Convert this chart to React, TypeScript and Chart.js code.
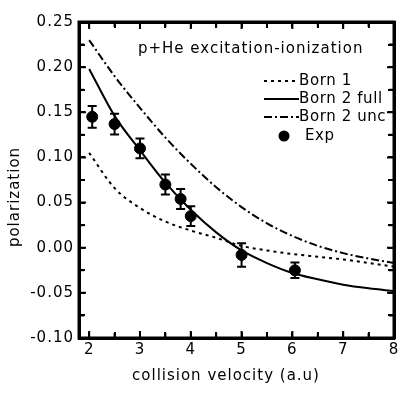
import React, { useEffect, useRef } from "react";
import { Chart, registerables } from "chart.js";

Chart.register(...registerables);

// ---- data ----
const curveX = [2, 2.5, 3, 3.5, 4, 4.5, 5, 5.5, 6, 6.5, 7, 7.5, 8];
const born1 = [0.105, 0.066, 0.044, 0.029, 0.019, 0.011, 0.002, -0.003, -0.007, -0.010, -0.013, -0.017, -0.021];
const born2Full = [0.198, 0.146, 0.108, 0.072, 0.042, 0.017, -0.003, -0.017, -0.028, -0.035, -0.041, -0.045, -0.048];
const born2Unc = [0.230, 0.190, 0.155, 0.122, 0.093, 0.067, 0.045, 0.027, 0.013, 0.002, -0.006, -0.012, -0.017];
const expX = [2.06, 2.5, 3.0, 3.5, 3.8, 4.0, 5.0, 6.05];
const expY = [0.145, 0.137, 0.110, 0.070, 0.054, 0.035, -0.008, -0.025];
const expErr = [0.012, 0.0115, 0.011, 0.011, 0.011, 0.011, 0.013, 0.0085];

const xTicks = [2, 3, 4, 5, 6, 7, 8];
const xMinor = [2.5, 3.5, 4.5, 5.5, 6.5, 7.5];
const yTicks = [-0.1, -0.05, 0, 0.05, 0.1, 0.15, 0.2, 0.25];
const yMinor = [-0.075, -0.025, 0.025, 0.075, 0.125, 0.175, 0.225];

const titleText = "p+He excitation-ionization";
const xTitle = "collision velocity (a.u)";
const yTitle = "polarization";
const legendLabels = ["Born 1", "Born 2 full", "Born 2 unc", "Exp"];

const FONT = "'DejaVu Sans', sans-serif";
const DOTTED = [3, 4];
const DASHDOT = [8, 3, 2, 3];

const isMajor = (v: number, majors: number[]) => majors.some((m) => Math.abs(m - v) < 1e-9);

export default function App() {
  const ref = useRef<HTMLCanvasElement>(null);

  useEffect(() => {
    const canvas = ref.current!;
    const decor = {
      id: "decor",
      beforeDraw(chart: any) {
        (chart.ctx as any).letterSpacing = "1px";
      },
      afterDraw(chart: any) {
        const ctx = chart.ctx as CanvasRenderingContext2D;
        const a = chart.chartArea;
        const xs = chart.scales.x;
        const ys = chart.scales.y;

        // frame
        ctx.save();
        ctx.strokeStyle = "#000000";
        ctx.lineWidth = 3;
        ctx.strokeRect(a.left, a.top, a.right - a.left, a.bottom - a.top);
        ctx.restore();

        // minor/major ticks inward
        ctx.save();
        ctx.strokeStyle = "#000000";
        ctx.lineWidth = 2;
        ctx.beginPath();
        const xt = (v: number, len: number) => {
          const p = xs.getPixelForValue(v);
          ctx.moveTo(p, a.bottom);
          ctx.lineTo(p, a.bottom - len);
          ctx.moveTo(p, a.top);
          ctx.lineTo(p, a.top + len);
        };
        const yt = (v: number, len: number) => {
          const p = ys.getPixelForValue(v);
          ctx.moveTo(a.left, p);
          ctx.lineTo(a.left + len, p);
          ctx.moveTo(a.right, p);
          ctx.lineTo(a.right - len, p);
        };
        xTicks.forEach((v) => xt(v, 7));
        xMinor.forEach((v) => xt(v, 5));
        yTicks.forEach((v) => yt(v, 7));
        yMinor.forEach((v) => yt(v, 5));
        ctx.stroke();
        ctx.restore();

        // error bars
        ctx.save();
        ctx.strokeStyle = "black";
        ctx.lineWidth = 2;
        expX.forEach((xv, i) => {
          const px = xs.getPixelForValue(xv);
          const t = ys.getPixelForValue(expY[i] + expErr[i]);
          const b = ys.getPixelForValue(expY[i] - expErr[i]);
          ctx.beginPath();
          ctx.moveTo(px, t);
          ctx.lineTo(px, b);
          ctx.moveTo(px - 4.5, t);
          ctx.lineTo(px + 4.5, t);
          ctx.moveTo(px - 4.5, b);
          ctx.lineTo(px + 4.5, b);
          ctx.stroke();
        });
        ctx.restore();

        // texts
        ctx.save();
        ctx.fillStyle = "black";
        (ctx as any).letterSpacing = "1px";
        ctx.font = `15px ${FONT}`;
        ctx.textBaseline = "middle";
        ctx.textAlign = "left";
        ctx.fillText(titleText, 138, 49);
        ctx.textAlign = "center";
        ctx.fillText(xTitle, 226, 376);
        ctx.translate(15, 197);
        ctx.rotate(-Math.PI / 2);
        ctx.fillText(yTitle, 0, 0);
        ctx.restore();

        // legend
        ctx.save();
        ctx.strokeStyle = "black";
        ctx.fillStyle = "black";
        const lx0 = 264;
        const lx1 = 299;
        const rows = [81, 99, 117, 136];
        const dashes = [DOTTED, [], DASHDOT];
        ctx.lineWidth = 2;
        for (let i = 0; i < 3; i++) {
          ctx.setLineDash(dashes[i]);
          ctx.beginPath();
          ctx.moveTo(lx0, rows[i]);
          ctx.lineTo(lx1, rows[i]);
          ctx.stroke();
        }
        ctx.setLineDash([]);
        ctx.beginPath();
        ctx.arc(284, rows[3], 5.5, 0, Math.PI * 2);
        ctx.fill();
        (ctx as any).letterSpacing = "0.6px";
        ctx.font = `15px ${FONT}`;
        ctx.textBaseline = "middle";
        ctx.textAlign = "left";
        for (let i = 0; i < 3; i++) ctx.fillText(legendLabels[i], 299, rows[i]);
        ctx.fillText(legendLabels[3], 305, rows[3]);
        ctx.restore();
      },
    };

    const lineDs = (label: string, ys: number[], dash: number[]) => ({
      label,
      data: curveX.map((x, i) => ({ x, y: ys[i] })),
      showLine: true,
      borderColor: "#000",
      backgroundColor: "#000",
      borderWidth: 2,
      borderDash: dash,
      pointRadius: 0,
      cubicInterpolationMode: "monotone" as const,
      fill: false,
    });

    const xAll = [...xTicks, ...xMinor].sort((p, q) => p - q);
    const yAll = [...yTicks, ...yMinor].sort((p, q) => p - q);
    const gridX = { display: true, drawOnChartArea: false, drawTicks: true, tickLength: -6, color: "#000", lineWidth: 2 };
    const borderBox = { display: true, width: 3, color: "#000" };

    const chart = new Chart(canvas, {
      type: "scatter",
      data: {
        datasets: [
          lineDs("Born 1", born1, DOTTED),
          lineDs("Born 2 full", born2Full, []),
          lineDs("Born 2 unc", born2Unc, DASHDOT),
          {
            label: "Exp",
            data: expX.map((x, i) => ({ x, y: expY[i] })),
            pointRadius: 5.5,
            pointBackgroundColor: "#000",
            pointBorderColor: "#000",
            pointBorderWidth: 1,
            backgroundColor: "#000",
            borderColor: "#000",
          } as any,
        ],
      },
      options: {
        responsive: false,
        animation: false,
        devicePixelRatio: 1,
        layout: { padding: { top: 22, right: 21, left: 0, bottom: 0 } },
        plugins: {
          legend: { display: false },
          tooltip: { enabled: false },
        },
        scales: {
          x: {
            type: "linear",
            position: "bottom",
            min: 1.8,
            max: 8,
            grid: gridX,
            border: borderBox,
            afterBuildTicks: (s: any) => {
              s.ticks = xAll.map((v) => ({ value: v }));
            },
            afterFit: (s: any) => {
              s.height = 59;
            },
            ticks: {
              color: "#000",
              font: { family: FONT, size: 15 },
              padding: 9,
              maxRotation: 0,
              autoSkip: false,
              callback: (v: any) => (isMajor(Number(v), xTicks) ? String(v) : ""),
            },
          },
          x2: {
            type: "linear",
            axis: "x",
            position: "top",
            min: 1.8,
            max: 8,
            grid: gridX,
            border: borderBox,
            afterBuildTicks: (s: any) => {
              s.ticks = xAll.map((v) => ({ value: v }));
            },
            afterFit: (s: any) => {
              s.height = 0;
            },
            ticks: { display: false, autoSkip: false },
          },
          y: {
            type: "linear",
            position: "left",
            min: -0.1,
            max: 0.25,
            grid: gridX,
            border: borderBox,
            afterBuildTicks: (s: any) => {
              s.ticks = yAll.map((v) => ({ value: v }));
            },
            afterFit: (s: any) => {
              s.width = 79;
            },
            ticks: {
              color: "#000",
              font: { family: FONT, size: 15 },
              padding: 11,
              autoSkip: false,
              callback: (v: any) => (isMajor(Number(v), yTicks) ? Number(v).toFixed(2) : ""),
            },
          },
          y2: {
            type: "linear",
            axis: "y",
            position: "right",
            min: -0.1,
            max: 0.25,
            grid: gridX,
            border: borderBox,
            afterBuildTicks: (s: any) => {
              s.ticks = yAll.map((v) => ({ value: v }));
            },
            afterFit: (s: any) => {
              s.width = 0;
            },
            ticks: { display: false, autoSkip: false },
          },
        },
      },
      plugins: [decor],
    });
    return () => chart.destroy();
  }, []);

  return (
    <div style={{ position: "absolute", left: 0, top: 0, width: 415, height: 397, background: "#fff" }}>
      <canvas ref={ref} width={415} height={397} />
    </div>
  );
}
